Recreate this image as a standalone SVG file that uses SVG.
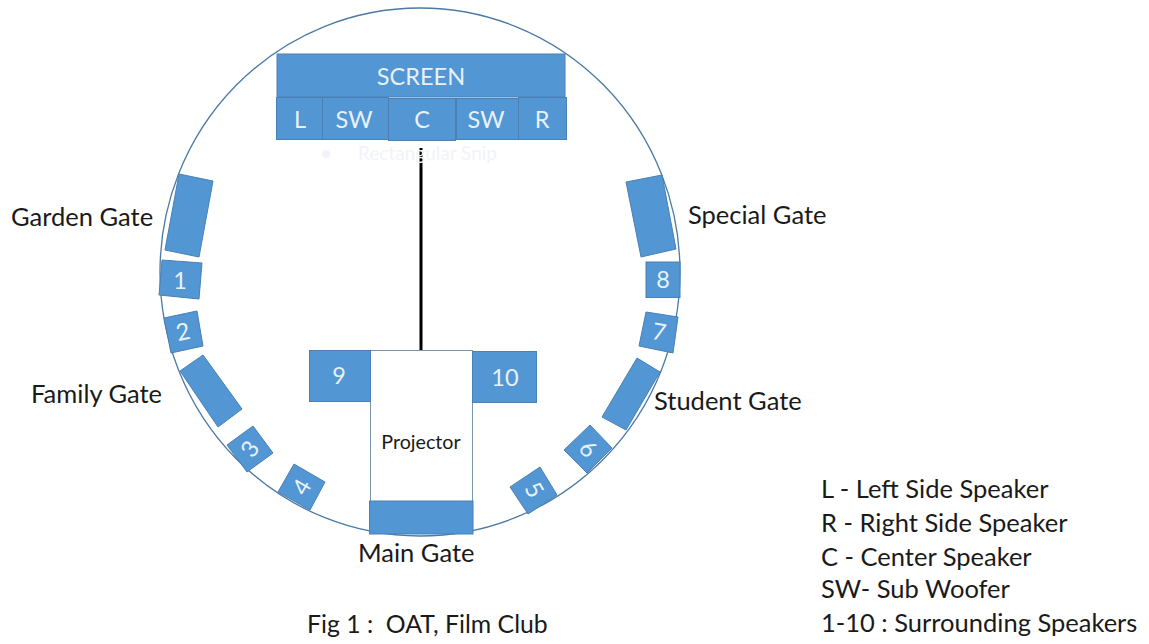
<svg xmlns="http://www.w3.org/2000/svg" width="1149" height="644" viewBox="0 0 1149 644">
<style>
text{font-family:Lato,"Open Sans","DejaVu Sans",sans-serif;white-space:pre}
.b{fill:#5296d3;stroke:#4a80b5;stroke-width:1}
.w{fill:#e8f1fa;font-size:23.500px;text-anchor:middle}
.k{fill:#1a1a1a;font-size:25.500px}
</style>
<rect width="1149" height="644" fill="#fff"/>
<g id="arena"><ellipse cx="420" cy="272" rx="260" ry="264" fill="#fff" stroke="#4a7aa5" stroke-width="1.300"/></g>
<g id="connectors"><line x1="421" y1="148" x2="421" y2="350" stroke="#000" stroke-width="3"/></g>
<g id="screen"><rect class="b" x="277" y="54" width="288" height="43"/><text class="w" x="421" y="85">SCREEN</text></g>
<g id="speaker-l"><rect class="b" x="276.500" y="97.500" width="46" height="42"/><text class="w" x="300" y="128">L</text></g>
<g id="speaker-sw1"><rect class="b" x="322.500" y="97.500" width="66" height="42"/><text class="w" x="354" y="128">SW</text></g>
<g id="speaker-c"><rect class="b" x="388.500" y="98.500" width="67" height="42"/><text class="w" x="422" y="128">C</text></g>
<g id="speaker-sw2"><rect class="b" x="456.500" y="98.500" width="62" height="41"/><text class="w" x="486" y="128">SW</text></g>
<g id="speaker-r"><rect class="b" x="518.500" y="97.500" width="48" height="42"/><text class="w" x="542" y="128">R</text></g>
<g id="snip"><circle cx="326" cy="154" r="4" fill="#f1f3f8"/><text x="358" y="160" font-size="19" fill="#f1f3f8">Rectangular Snip</text></g>
<g id="garden-gate"><polygon class="b" points="179,174 213,181 199,257 165,250"/><text class="k" x="11" y="226">Garden Gate</text></g>
<g id="s1"><polygon class="b" points="162,260 202,263 199,299 159,295"/><text class="w" x="180" y="289">1</text></g>
<g id="s2"><polygon class="b" points="164,318 197,311 203,346 171,353"/><text class="w" transform="rotate(-12 183 332)" x="183" y="340">2</text></g>
<g id="family-gate"><polygon class="b" points="203,355 242,409 218,427 180,371"/><text class="k" x="31" y="403">Family Gate</text></g>
<g id="s3"><polygon class="b" points="253,426 273,453 247,472 227,445"/><text class="w" transform="rotate(-55 250 449)" x="250" y="457">3</text></g>
<g id="s4"><polygon class="b" points="294,464 325,482 310,510 278,492"/><text class="w" transform="rotate(-60 302 487)" x="302" y="495">4</text></g>
<g id="special-gate"><polygon class="b" points="626,182 662,175 676,249 641,257"/><text class="k" x="688" y="224">Special Gate</text></g>
<g id="s8"><rect class="b" x="646" y="262" width="34" height="35.500"/><text class="w" x="663" y="288">8</text></g>
<g id="s7"><polygon class="b" points="646,312 678,317 673,353 639,346"/><text class="w" transform="rotate(10 659 332)" x="659" y="340">7</text></g>
<g id="student-gate"><polygon class="b" points="637,358 660,372 626,430 602,417"/><text class="k" x="654" y="410">Student Gate</text></g>
<g id="s6"><polygon class="b" points="590,425 612,448 587,473 564,450"/><text class="w" transform="rotate(47 588 449)" x="588" y="457">6</text></g>
<g id="s5"><polygon class="b" points="540,467 557,495 528,514 510,487"/><text class="w" transform="rotate(60 534 490)" x="534" y="498">5</text></g>
<g id="projector"><rect x="370.500" y="350.500" width="102" height="151" fill="#fff" stroke="#7d93a8"/><text x="421" y="449" font-size="19.700" fill="#1a1a1a" text-anchor="middle">Projector</text></g>
<g id="main-gate"><rect class="b" x="369.500" y="501" width="103.500" height="33"/><text class="k" x="358" y="562">Main Gate</text></g>
<g id="s9"><rect class="b" x="309.500" y="350.500" width="61" height="51"/><text class="w" x="339" y="384">9</text></g>
<g id="s10"><rect class="b" x="472.500" y="351.500" width="64" height="51"/><text class="w" x="505" y="386">10</text></g>
<g id="caption"><text class="k" style="font-size:24.800px" x="307" y="633">Fig 1 :  OAT, Film Club</text></g>
<g id="legend"><text class="k" x="821" y="498">L - Left Side Speaker</text><text class="k" x="821" y="532">R - Right Side Speaker</text><text class="k" x="821" y="566">C - Center Speaker</text><text class="k" x="821" y="598">SW- Sub Woofer</text><text class="k" x="821" y="632">1-10 : Surrounding Speakers</text></g>
</svg>
